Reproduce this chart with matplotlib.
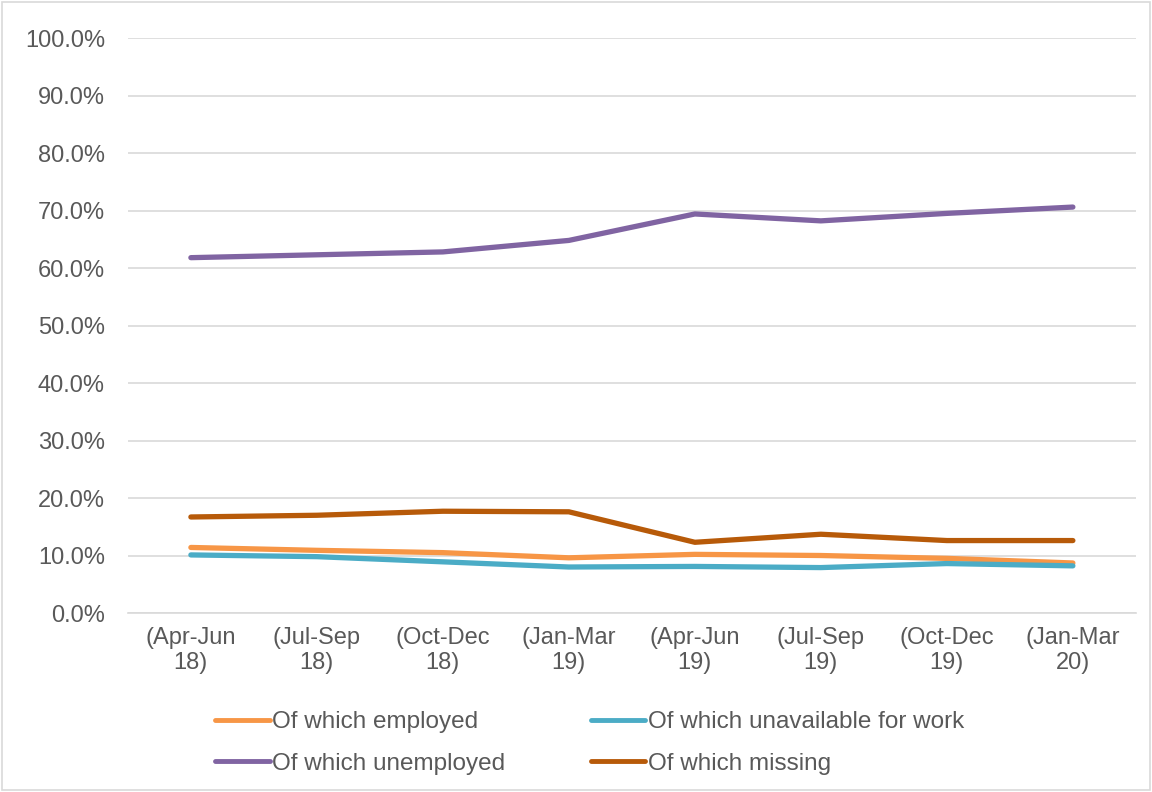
import matplotlib.pyplot as plt
from matplotlib.ticker import PercentFormatter
from matplotlib.patches import Rectangle

plt.rcParams['font.family'] = ['Liberation Sans', 'DejaVu Sans']

# Data
quarters = ['(Apr-Jun\n18)', '(Jul-Sep\n18)', '(Oct-Dec\n18)', '(Jan-Mar\n19)',
            '(Apr-Jun\n19)', '(Jul-Sep\n19)', '(Oct-Dec\n19)', '(Jan-Mar\n20)']
employed = [11.4, 10.9, 10.5, 9.6, 10.2, 10.0, 9.5, 8.7]
unavailable = [10.1, 9.8, 8.9, 8.0, 8.1, 7.9, 8.6, 8.2]
unemployed = [61.8, 62.3, 62.8, 64.8, 69.4, 68.2, 69.5, 70.6]
missing = [16.7, 17.0, 17.7, 17.6, 12.3, 13.7, 12.6, 12.6]

text_col = '#595959'
fs = 17
x = range(len(quarters))

fig = plt.figure(figsize=(11.52, 7.92), dpi=100)
ax = fig.add_axes([0.111, 0.226, 0.875, 0.726])

lw = 3.8
l_emp, = ax.plot(x, employed, color='#F79646', lw=lw, solid_capstyle='round', label='Of which employed')
l_una, = ax.plot(x, unavailable, color='#4BACC6', lw=lw, solid_capstyle='round', label='Of which unavailable for work')
l_unm, = ax.plot(x, unemployed, color='#8064A2', lw=lw, solid_capstyle='round', label='Of which unemployed')
l_mis, = ax.plot(x, missing, color='#B75A09', lw=lw, solid_capstyle='round', label='Of which missing')

ax.set_xlim(-0.5, len(quarters) - 0.5)
ax.set_ylim(0, 100)
ax.set_yticks(range(0, 101, 10))
ax.yaxis.set_major_formatter(PercentFormatter(decimals=1))
ax.set_xticks(list(x))
ax.set_xticklabels(quarters)
ax.tick_params(axis='both', length=0, labelsize=fs, colors=text_col)
ax.tick_params(axis='y', pad=16.5)
ax.tick_params(axis='x', pad=10)
ax.grid(axis='y', color='#D9D9D9', lw=1.2)
ax.set_axisbelow(True)
for s in ['top', 'right', 'left']:
    ax.spines[s].set_visible(False)
ax.spines['bottom'].set_color('#D9D9D9')
ax.spines['bottom'].set_linewidth(1.2)

# column-major fill: first column employed/unemployed, second unavailable/missing
handles = [l_emp, l_unm, l_una, l_mis]
leg = fig.legend(handles, [h.get_label() for h in handles],
                 loc='lower left', bbox_to_anchor=(0.1866, 0.022), ncol=2, frameon=False,
                 fontsize=17.5, handlelength=2.26, handletextpad=0.1, columnspacing=3.5,
                 labelspacing=0.8, borderpad=0, borderaxespad=0)
for t in leg.get_texts():
    t.set_color(text_col)
for h in leg.get_lines():
    h.set_linewidth(3.5)

fig.add_artist(Rectangle((0.002, 0.002), 0.996, 0.996, transform=fig.transFigure,
                         fill=False, edgecolor='#D9D9D9', lw=1.2))

fig.savefig('out.png', dpi=100)
